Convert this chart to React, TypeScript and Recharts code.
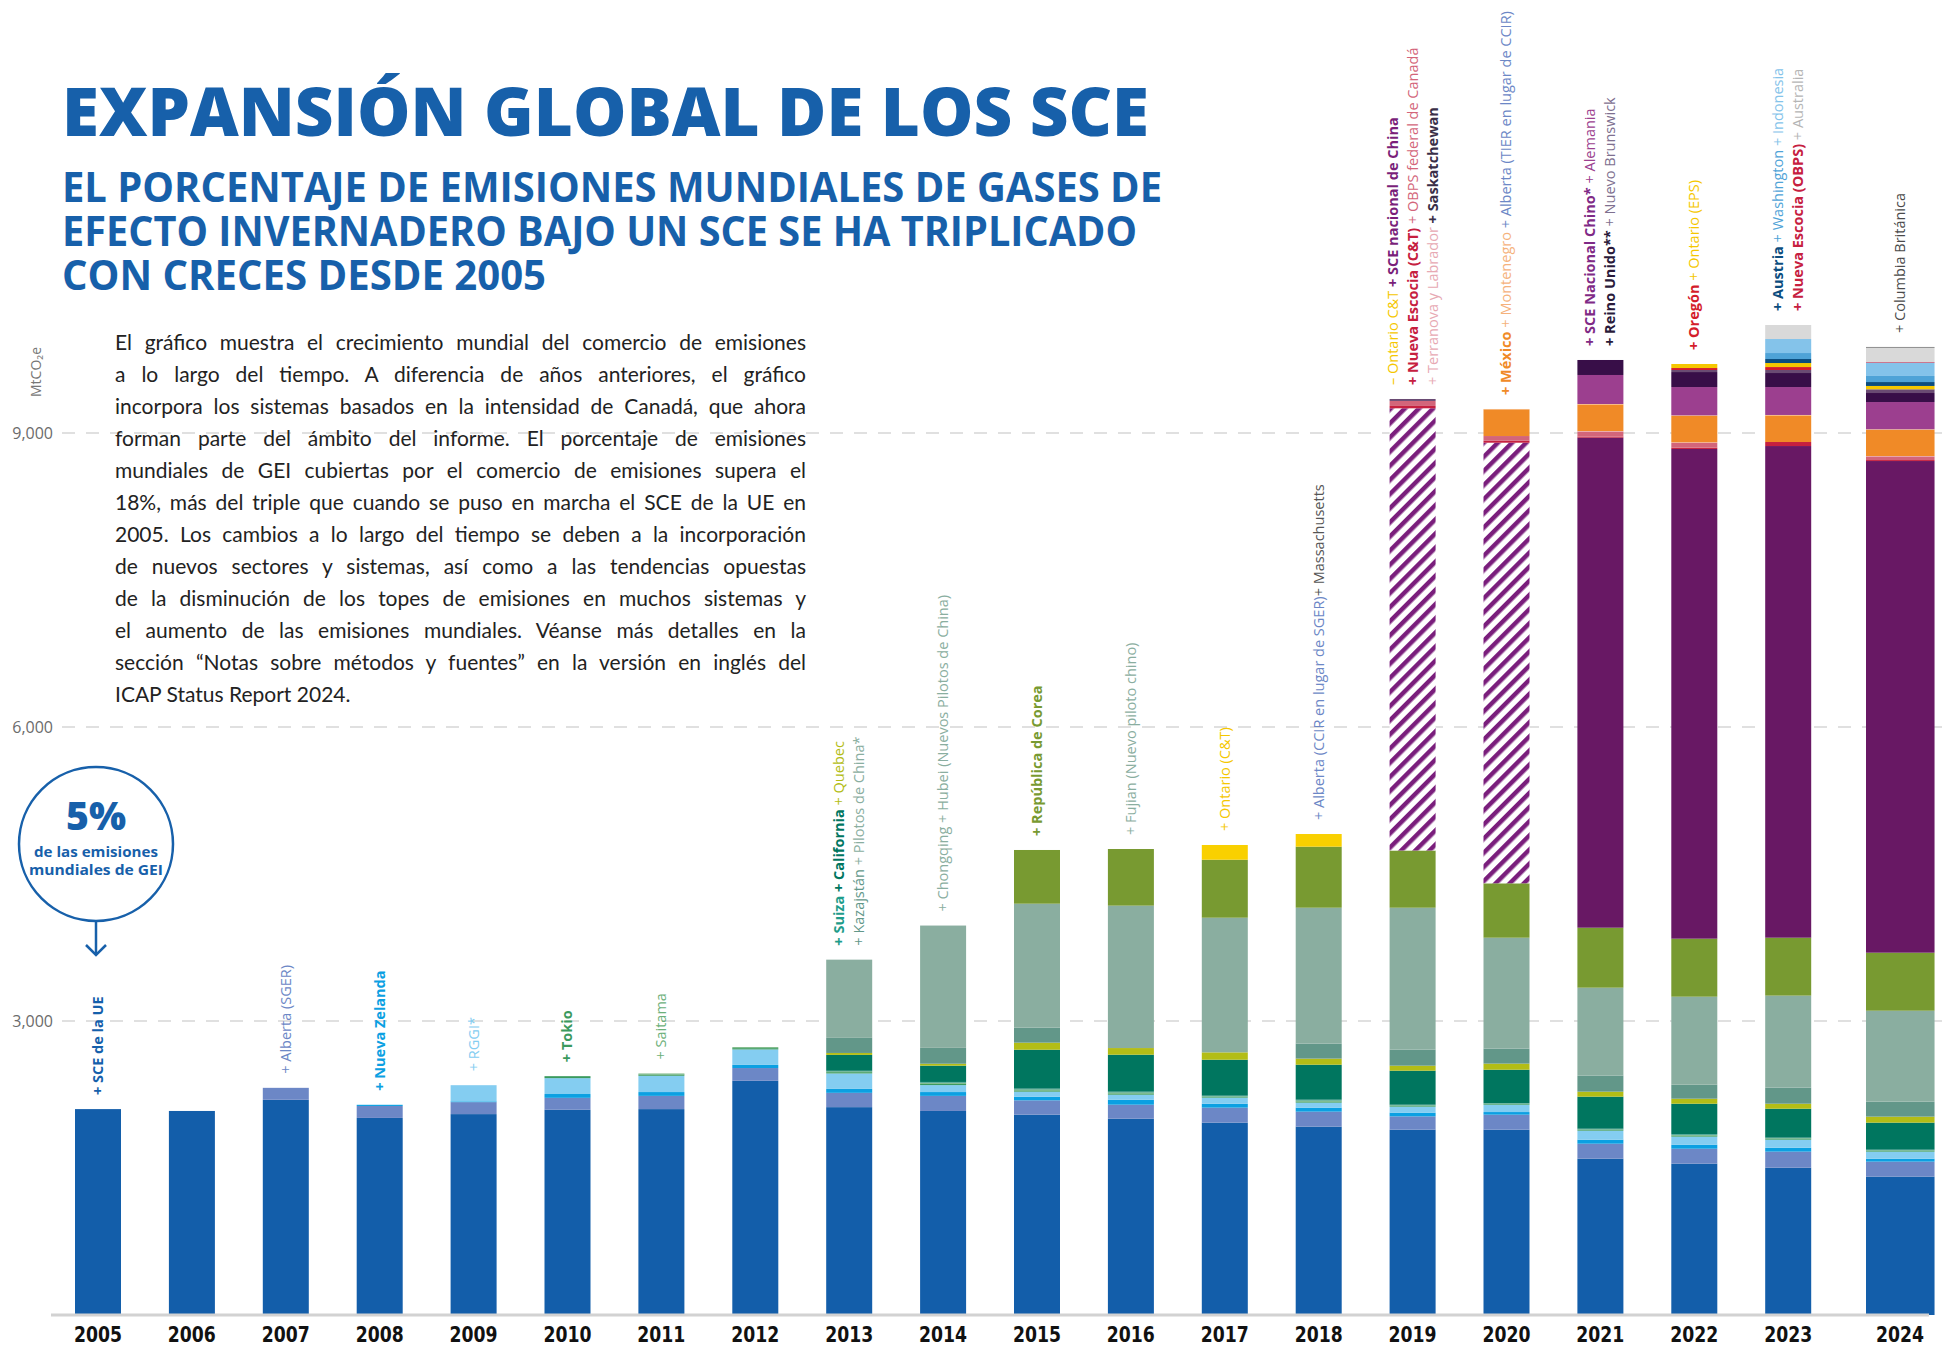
import React from 'react';
import { BarChart, Bar, XAxis, YAxis, CartesianGrid, LabelList } from 'recharts';

const years = ['2005', '2006', '2007', '2008', '2009', '2010', '2011', '2012', '2013', '2014',
  '2015', '2016', '2017', '2018', '2019', '2020', '2021', '2022', '2023', '2024'];

// MtCO2e cubiertas por cada sistema
const euEts = [2101, 2082, 2196, 2011, 2050, 2094, 2101, 2390, 2121, 2082, 2044, 2003, 1963, 1922, 1891, 1891, 1595, 1544, 1503, 1412];
const alberta = [0, 0, 122, 122, 122, 122, 135, 130, 146, 154, 146, 143, 153, 153, 136, 153, 153, 153, 164, 153];
const newZealand = [0, 0, 0, 12, 8, 39, 39, 32, 40, 39, 38, 51, 40, 41, 38, 27, 41, 41, 40, 30];
const rggi = [0, 0, 0, 0, 165, 162, 166, 158, 158, 71, 51, 51, 62, 51, 61, 75, 92, 82, 82, 72];
const tokyo = [0, 0, 0, 0, 0, 20, 13, 13, 13, 14, 13, 13, 8, 12, 8, 7, 8, 11, 8, 8];
const saitama = [0, 0, 0, 0, 0, 0, 10, 10, 8, 10, 10, 10, 6, 10, 6, 5, 6, 8, 7, 6];
const switzerland = [0, 0, 0, 0, 0, 0, 0, 0, 6, 8, 8, 8, 6, 8, 6, 5, 6, 8, 6, 6];
const california = [0, 0, 0, 0, 0, 0, 0, 0, 162, 166, 397, 377, 367, 357, 347, 340, 327, 309, 295, 276];
const quebec = [0, 0, 0, 0, 0, 0, 0, 0, 20, 20, 72, 68, 75, 62, 51, 62, 51, 51, 51, 61];
const kazakhstan = [0, 0, 0, 0, 0, 0, 0, 0, 154, 162, 153, 0, 0, 153, 163, 153, 163, 143, 164, 153];
const chinaPilots = [0, 0, 0, 0, 0, 0, 0, 0, 798, 1248, 1265, 1453, 1374, 1387, 1449, 1132, 898, 898, 939, 928];
const korea = [0, 0, 0, 0, 0, 0, 0, 0, 0, 0, 548, 578, 592, 623, 584, 555, 612, 592, 591, 592];
const ontarioCT = [0, 0, 0, 0, 0, 0, 0, 0, 0, 0, 0, 0, 150, 129, 0, 0, 0, 0, 0, 0];
const chinaNational = [0, 0, 0, 0, 0, 0, 0, 0, 0, 0, 0, 0, 0, 0, 4512, 4496, 5000, 4997, 5017, 5017];
const novaScotia = [0, 0, 0, 0, 0, 0, 0, 0, 0, 0, 0, 0, 0, 0, 24, 20, 10, 13, 41, 10];
const obps = [0, 0, 0, 0, 0, 0, 0, 0, 0, 0, 0, 0, 0, 0, 51, 48, 53, 50, 0, 37];
const newfoundland = [0, 0, 0, 0, 0, 0, 0, 0, 0, 0, 0, 0, 0, 0, 0, 0, 5, 5, 0, 4];
const mexico = [0, 0, 0, 0, 0, 0, 0, 0, 0, 0, 0, 0, 0, 0, 0, 272, 271, 270, 271, 268];
const montenegro = [0, 0, 0, 0, 0, 0, 0, 0, 0, 0, 0, 0, 0, 0, 0, 4, 5, 5, 5, 5];
const germany = [0, 0, 0, 0, 0, 0, 0, 0, 0, 0, 0, 0, 0, 0, 0, 0, 296, 289, 285, 278];
const unitedKingdom = [0, 0, 0, 0, 0, 0, 0, 0, 0, 0, 0, 0, 0, 0, 0, 0, 153, 153, 143, 92];
const saskatchewan = [0, 0, 0, 0, 0, 0, 0, 0, 0, 0, 0, 0, 0, 0, 20, 0, 0, 21, 31, 38];
const oregon = [0, 0, 0, 0, 0, 0, 0, 0, 0, 0, 0, 0, 0, 0, 0, 0, 0, 20, 30, 0];
const ontarioEPS = [0, 0, 0, 0, 0, 0, 0, 0, 0, 0, 0, 0, 0, 0, 0, 0, 0, 41, 41, 34];
const austria = [0, 0, 0, 0, 0, 0, 0, 0, 0, 0, 0, 0, 0, 0, 0, 0, 0, 0, 41, 40];
const washington = [0, 0, 0, 0, 0, 0, 0, 0, 0, 0, 0, 0, 0, 0, 0, 0, 0, 0, 61, 62];
const indonesia = [0, 0, 0, 0, 0, 0, 0, 0, 0, 0, 0, 0, 0, 0, 0, 0, 0, 0, 143, 136];
const novaScotiaOBPS = [0, 0, 0, 0, 0, 0, 0, 0, 0, 0, 0, 0, 0, 0, 0, 0, 0, 0, 0, 6];
const australia = [0, 0, 0, 0, 0, 0, 0, 0, 0, 0, 0, 0, 0, 0, 0, 0, 0, 0, 143, 147];
const britishColumbia = [0, 0, 0, 0, 0, 0, 0, 0, 0, 0, 0, 0, 0, 0, 0, 0, 0, 0, 0, 7];

const yTicks = [3000, 6000, 9000];
const hatchYears = ['2019', '2020'];
const BLUE = '#1760AA';

const SERIES = [
  { key: 'eu', color: '#135EAA', values: euEts },
  { key: 'alberta', color: '#6C87C6', values: alberta },
  { key: 'nz', color: '#0BA0E2', values: newZealand },
  { key: 'rggi', color: '#84CDF1', values: rggi },
  { key: 'tokyo', color: '#3B9A5D', values: tokyo },
  { key: 'saitama', color: '#6CB07A', values: saitama },
  { key: 'swiss', color: '#2E9A88', values: switzerland },
  { key: 'california', color: '#00765F', values: california },
  { key: 'quebec', color: '#B3BD16', values: quebec },
  { key: 'kazakhstan', color: '#629789', values: kazakhstan },
  { key: 'pilots', color: '#8AAEA0', values: chinaPilots },
  { key: 'korea', color: '#789A31', values: korea },
  { key: 'ontario', color: '#F9D000', values: ontarioCT },
  { key: 'china', color: '#681864', values: chinaNational, hatch: true },
  { key: 'novaScotia', color: '#C6203F', values: novaScotia },
  { key: 'obps', color: '#D3657A', values: obps },
  { key: 'newfoundland', color: '#EFA9A6', values: newfoundland },
  { key: 'mexico', color: '#F08A27', values: mexico },
  { key: 'montenegro', color: '#F6B57C', values: montenegro },
  { key: 'germany', color: '#9C3F8F', values: germany },
  { key: 'uk', color: '#380E48', values: unitedKingdom },
  { key: 'sask', color: '#6A4B73', values: saskatchewan },
  { key: 'oregon', color: '#D41C2B', values: oregon },
  { key: 'ontarioEps', color: '#F5C700', values: ontarioEPS },
  { key: 'austria', color: '#0C4D7E', values: austria },
  { key: 'washington', color: '#4FA3D7', values: washington },
  { key: 'indonesia', color: '#84C3EA', values: indonesia },
  { key: 'nsObps', color: '#C6203F', values: novaScotiaOBPS },
  { key: 'australia', color: '#D9D9D9', values: australia },
  { key: 'bc', color: '#5F5F5F', values: britishColumbia },
];

const data = years.map((year, i) => {
  const row: any = { year };
  SERIES.forEach((s) => { row[s.key] = s.values[i]; });
  return row;
});

type Seg = [string, string, boolean];
const notes: Record<string, Seg[][]> = {
  '2005': [[['+ SCE de la UE', '#1560AB', true]]],
  '2007': [[['+ Alberta (SGER)', '#6C87C6', false]]],
  '2008': [[['+ Nueva Zelanda', '#0BA0E2', true]]],
  '2009': [[['+ RGGI*', '#84CDF1', false]]],
  '2010': [[['+ Tokio', '#3B9A5D', true]]],
  '2011': [[['+ Saitama', '#6CB07A', false]]],
  '2013': [
    [['+ Suiza ', '#1E9C8A', true], ['+ California ', '#00765F', true], ['+ Quebec', '#B3BD16', false]],
    [['+ Kazajstán ', '#629789', false], ['+ Pilotos de China*', '#8AAEA0', false]],
  ],
  '2014': [[['+ Chongqing + Hubei (Nuevos Pilotos de China)', '#8AAEA0', false]]],
  '2015': [[['+ República de Corea', '#789A31', true]]],
  '2016': [[['+ Fujian (Nuevo piloto chino)', '#8AAEA0', false]]],
  '2017': [[['+ Ontario (C&T)', '#F5C700', false]]],
  '2018': [[['+ Alberta (CCIR en lugar de SGER)', '#6C87C6', false], ['+ Massachusetts', '#555555', false]]],
  '2019': [
    [['– Ontario C&T ', '#F5C700', false], ['+ SCE nacional de China', '#7A1F7A', true]],
    [['+ Nueva Escocia (C&T) ', '#C6203F', true], ['+ OBPS federal de Canadá', '#D3657A', false]],
    [['+ Terranova y Labrador ', '#E7A9B3', false], ['+ Saskatchewan', '#3A2F48', true]],
  ],
  '2020': [[['+ México ', '#F08A27', true], ['+ Montenegro ', '#F5B27C', false], ['+ Alberta (TIER en lugar de CCIR)', '#6C87C6', false]]],
  '2021': [
    [['+ SCE Nacional Chino* ', '#7F2A86', true], ['+ Alemania', '#9C3F8F', false]],
    [['+ Reino Unido** ', '#2A1A3A', true], ['+ Nuevo Brunswick', '#7E6F8F', false]],
  ],
  '2022': [[['+ Oregón ', '#D41C2B', true], ['+ Ontario (EPS)', '#F5C700', false]]],
  '2023': [
    [['+ Austria ', '#0C4D7E', true], ['+ Washington ', '#4FA3D7', false], ['+ Indonesia', '#84C3EA', false]],
    [['+ Nueva Escocia (OBPS) ', '#C6203F', true], ['+ Australia', '#B5B5B5', false]],
  ],
  '2024': [[['+ Columbia Británica', '#4A4A4A', false]]],
};

const paragraph = [
  'El gráfico muestra el crecimiento mundial del comercio de emisiones',
  'a lo largo del tiempo. A diferencia de años anteriores, el gráfico',
  'incorpora los sistemas basados en la intensidad de Canadá, que ahora',
  'forman parte del ámbito del informe. El porcentaje de emisiones',
  'mundiales de GEI cubiertas por el comercio de emisiones supera el',
  '18%, más del triple que cuando se puso en marcha el SCE de la UE en',
  '2005. Los cambios a lo largo del tiempo se deben a la incorporación',
  'de nuevos sectores y sistemas, así como a las tendencias opuestas',
  'de la disminución de los topes de emisiones en muchos sistemas y',
  'el aumento de las emisiones mundiales. Véanse más detalles en la',
  'sección “Notas sobre métodos y fuentes” en la versión en inglés del',
  'ICAP Status Report 2024.',
];

// the last year is drawn a bit wider and shifted right, as in the original
const isWide = (year: string) => year === '2024';

const makeShape = (color: string, hatch?: boolean) => (props: any) => {
  const { x, y, width, height, payload, index } = props;
  if (!height || height <= 0) return <g />;
  const year = payload?.year ?? years[index];
  const wide = isWide(year);
  const fill = hatch && hatchYears.includes(year) ? 'url(#hatch)' : color;
  return (
    <rect
      x={wide ? x + width * 0.15 : x}
      y={y}
      width={wide ? width * 1.49 : width}
      height={height}
      fill={fill}
    />
  );
};

const renderNote = (props: any) => {
  const { x, y, width, index } = props;
  const year = years[index];
  const lines = notes[year];
  if (!lines) return null;
  const cx = x + width / 2 + (isWide(year) ? width * 0.39 : 0);
  const base = y - 14;
  return (
    <g>
      {lines.map((line, li) => {
        const lx = cx + (li - (lines.length - 1) / 2) * 20 + 5;
        return (
          <text
            key={li}
            x={lx}
            y={base}
            transform={`rotate(-90 ${lx} ${base})`}
            fontFamily="'Open Sans', sans-serif"
            fontSize={14.5}
          >
            {line.map((seg, si) => (
              <tspan key={si} fill={seg[1]} fontWeight={seg[2] ? 700 : 400}>{seg[0]}</tspan>
            ))}
          </text>
        );
      })}
    </g>
  );
};

const YearTick = (props: any) => {
  const { x, y, payload } = props;
  const shift = isWide(payload.value) ? 18 : 0;
  return (
    <text
      x={x + shift}
      y={y + 27}
      textAnchor="middle"
      fontFamily="'DejaVu Sans Condensed', 'DejaVu Sans', sans-serif"
      fontWeight={700}
      fontSize={22}
      fill="#111"
      textLength={48}
      lengthAdjust="spacingAndGlyphs"
    >
      {payload.value}
    </text>
  );
};

const ValueTick = (props: any) => {
  const { x, y, payload } = props;
  return (
    <text x={x + 2} y={y + 6} textAnchor="end" fontFamily="'Open Sans', sans-serif" fontSize={16} fill="#6b6b6b">
      {payload.value.toLocaleString('en-US')}
    </text>
  );
};

export default function App() {
  return (
    <div style={{ position: 'absolute', left: 0, top: 0, width: 1942, height: 1346, background: '#fff', overflow: 'hidden' }}>
      <svg width={0} height={0} style={{ position: 'absolute' }}>
        <defs>
          <pattern id="hatch" patternUnits="userSpaceOnUse" width="10" height="10" patternTransform="rotate(45)">
            <rect width="10" height="10" fill="#fff" />
            <rect width="4.5" height="10" fill="#7A1E7C" />
          </pattern>
        </defs>
      </svg>

      <BarChart width={1942} height={1346} data={data} margin={{ top: 139, right: 13, bottom: 0, left: 0 }}>
        <CartesianGrid
          vertical={false}
          horizontalValues={yTicks}
          stroke="#d6d6d6"
          strokeDasharray="13 11"
          strokeWidth={1.5}
          x={62}
          width={1880}
        />
        <XAxis
          dataKey="year"
          height={31}
          tickLine={false}
          tickSize={0}
          tickMargin={0}
          axisLine={{ stroke: '#d2d2d2', strokeWidth: 3 }}
          tick={<YearTick />}
          interval={0}
        />
        <YAxis
          domain={[0, 12000]}
          ticks={yTicks}
          width={51}
          axisLine={false}
          tickLine={false}
          tickSize={0}
          tickMargin={0}
          tick={<ValueTick />}
        />
        {SERIES.map((s, i) => (
          <Bar
            key={s.key}
            dataKey={s.key}
            stackId="a"
            fill={s.color}
            barSize={46}
            isAnimationActive={false}
            shape={makeShape(s.color, s.hatch)}
          >
            {i === SERIES.length - 1 && <LabelList dataKey="year" content={renderNote} />}
          </Bar>
        ))}
      </BarChart>

      <svg width={1942} height={1346} style={{ position: 'absolute', left: 0, top: 0, pointerEvents: 'none' }}>
        <text x={62} y={136} fontFamily="'Open Sans', sans-serif" fontWeight={800} fontSize={68} fill={BLUE}
          textLength={1087} lengthAdjust="spacingAndGlyphs">EXPANSIÓN GLOBAL DE LOS SCE</text>
        <g fontFamily="'Open Sans', sans-serif" fontWeight={700} fontSize={41} fill={BLUE}>
          <text x={62} y={202} textLength={1100} lengthAdjust="spacingAndGlyphs">EL PORCENTAJE DE EMISIONES MUNDIALES DE GASES DE</text>
          <text x={62} y={246} textLength={1075} lengthAdjust="spacingAndGlyphs">EFECTO INVERNADERO BAJO UN SCE SE HA TRIPLICADO</text>
          <text x={62} y={290} textLength={484} lengthAdjust="spacingAndGlyphs">CON CRECES DESDE 2005</text>
        </g>

        <text x={0} y={0} transform="translate(41 372) rotate(-90)" textAnchor="middle"
          fontFamily="'Open Sans', sans-serif" fontSize={14} fill="#777">MtCO₂e</text>

        <circle cx={96} cy={844} r={77} fill="#fff" stroke={BLUE} strokeWidth={2.5} />
        <text x={96} y={830} textAnchor="middle" fontFamily="'Open Sans', sans-serif" fontWeight={800} fontSize={38}
          fill={BLUE} textLength={60} lengthAdjust="spacingAndGlyphs">5%</text>
        <g fontFamily="'Open Sans', sans-serif" fontWeight={700} fontSize={15} fill={BLUE} textAnchor="middle">
          <text x={96} y={857} textLength={124} lengthAdjust="spacingAndGlyphs">de las emisiones</text>
          <text x={96} y={875} textLength={134} lengthAdjust="spacingAndGlyphs">mundiales de GEI</text>
        </g>
        <line x1={96} y1={922} x2={96} y2={955} stroke={BLUE} strokeWidth={2.5} />
        <polyline points="86,945 96,955 106,945" fill="none" stroke={BLUE} strokeWidth={2.5} />
      </svg>

      <div style={{ position: 'absolute', left: 115, top: 326, width: 691, fontFamily: "'Lato', sans-serif", fontSize: 21, lineHeight: '32px', color: '#222' }}>
        {paragraph.map((line, i) => (
          <div key={i} style={{ textAlign: 'justify', textAlignLast: i < paragraph.length - 1 ? 'justify' : 'left' }}>{line}</div>
        ))}
      </div>
    </div>
  );
}
